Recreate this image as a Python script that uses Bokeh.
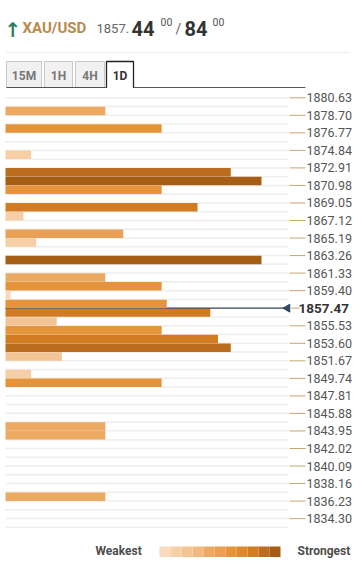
from bokeh.plotting import figure
from bokeh.layouts import column
from bokeh.models import Range1d
from bokeh.core.properties import value
from bokeh.embed import file_html
from bokeh.resources import INLINE
import numpy as np

# ---------------- data ----------------
symbol = "XAU/USD"
bid_int = "1857."
bid_big = "44"
bid_sup = "00"
ask_big = "84"
ask_sup = "00"
timeframes = ["15M", "1H", "4H", "1D"]
active_tf = "1D"

tick_labels = ["1880.63", "1878.70", "1876.77", "1874.84", "1872.91", "1870.98",
               "1869.05", "1867.12", "1865.19", "1863.26", "1861.33", "1859.40",
               "1857.47", "1855.53", "1853.60", "1851.67", "1849.74", "1847.81",
               "1845.88", "1843.95", "1842.02", "1840.09", "1838.16", "1836.23",
               "1834.30"]
tick_prices = [float(t) for t in tick_labels]
current_price = 1857.47
row_step = 0.965

levels = [1879.18, 1877.25, 1874.36, 1872.43, 1871.47, 1870.50, 1868.57, 1867.60,
          1865.67, 1864.70, 1862.77, 1860.84, 1859.87, 1858.91, 1857.94, 1856.98,
          1856.01, 1855.05, 1854.08, 1853.12, 1852.15, 1850.22, 1849.26, 1844.44,
          1843.48, 1836.72]
strengths = [3.9, 6.1, 1.0, 8.8, 10.0, 6.1, 7.5, 0.7,
             4.6, 1.2, 10.0, 3.9, 6.1, 0.2, 6.3, 8.0,
             2.0, 6.1, 8.3, 8.8, 2.2, 1.0, 6.1, 3.9,
             3.9, 3.9]

palette = ["#f8dbbf", "#f6cfa6", "#f3c595", "#efb97f", "#eba962", "#e9a055",
           "#e6943b", "#dd8a2e", "#d17b22", "#bb6c1d", "#a65d14"]
legend_low = "Weakest"
legend_high = "Strongest"

# ---------------- layout constants ----------------
W = 362
FONT = value("Roboto")
PX_PER_UNIT = 25.6
ROW_PX = 8.765
BAR_X0 = 5
BAR_X1 = 288


def base_fig(h, xr, yr):
    f = figure(width=W, height=h, x_range=xr, y_range=yr,
               toolbar_location=None, output_backend="svg", min_border=0,
               x_axis_location=None, y_axis_location=None,
               outline_line_color=None, background_fill_color="white",
               border_fill_color="white")
    f.grid.visible = False
    return f


# ---------------- header ----------------
HH = 88
hdr = base_fig(HH, Range1d(0, W), Range1d(HH, 0))
hdr.text(x=[4], y=[29], text=["\u2191"], text_font=value("DejaVu Sans"),
         text_font_size="20px", text_font_style="bold", text_color="#2e7d63",
         text_baseline="alphabetic")
hdr.text(x=[22], y=[27.5], text=[symbol], text_font=FONT, text_font_size="15px",
         text_font_style="bold", text_color="#b98a4e", text_baseline="alphabetic")
hdr.text(x=[96], y=[28], text=[bid_int], text_font=FONT, text_font_size="13px",
         text_color="#666666", text_baseline="alphabetic")
hdr.text(x=[131, 184], y=[28, 28], text=[bid_big, ask_big], text_font=FONT,
         text_font_size="20px", text_font_style="bold", text_color="#333333",
         text_baseline="alphabetic")
hdr.text(x=[160, 212], y=[21, 21], text=[bid_sup, ask_sup], text_font=FONT,
         text_font_size="10.5px", text_color="#555555", text_baseline="alphabetic")
hdr.text(x=[175], y=[28], text=["/"], text_font=FONT, text_font_size="14px",
         text_color="#666666", text_baseline="alphabetic")
hdr.segment(x0=[5], y0=[52], x1=[350], y1=[52], line_color="#ececec", line_width=1)

tab_left = [6, 44, 75, 106]
tab_right = [41, 72, 104, 133]
tab_top, tab_bot = 61, 87.3
inactive = [i for i, t in enumerate(timeframes) if t != active_tf]
act = timeframes.index(active_tf)
hdr.quad(left=[tab_left[i] for i in inactive], right=[tab_right[i] for i in inactive],
         top=tab_top, bottom=tab_bot, fill_color="#f1f1f1", line_color="#c9c9c9")
hdr.text(x=[(tab_left[i] + tab_right[i]) / 2 for i in inactive], y=75,
         text=[timeframes[i] for i in inactive], text_font=FONT, text_font_size="12px",
         text_font_style="bold", text_color="#777777", text_align="center",
         text_baseline="middle")
hdr.quad(left=[tab_left[act]], right=[tab_right[act]], top=tab_top, bottom=tab_bot,
         fill_color="white", line_color=None)
hdr.multi_line(xs=[[tab_left[act], tab_left[act], tab_right[act], tab_right[act]]],
               ys=[[tab_bot, tab_top, tab_top, tab_bot]], line_color="#222222",
               line_width=1.3)
hdr.text(x=[(tab_left[act] + tab_right[act]) / 2], y=75, text=[active_tf],
         text_font=FONT, text_font_size="12px", text_font_style="bold",
         text_color="#333333", text_align="center", text_baseline="middle")
hdr.segment(x0=[6, tab_right[act]], y0=[tab_bot, tab_bot], x1=[tab_left[act], 305],
            y1=[tab_bot, tab_bot], line_color="#222222", line_width=1.3)

# ---------------- chart ----------------
H = 440
top_price = tick_prices[0] + row_step * (9.3 / ROW_PX)
bottom_price = top_price - row_step * (H / ROW_PX)
ch = base_fig(H, Range1d(-BAR_X0 / PX_PER_UNIT, (W - BAR_X0) / PX_PER_UNIT),
              Range1d(bottom_price, top_price))
ch.extra_x_ranges = {"px": Range1d(0, W)}

bounds = [tick_prices[0] - k * row_step for k in range(0, 50)]
ch.segment(x0=BAR_X0, y0=bounds, x1=BAR_X1, y1=bounds, x_range_name="px",
           line_color="#eeeeee", line_width=1.5)

colors = [palette[int(min(10, max(0, round(s))))] for s in strengths]
lo = [i for i, l in enumerate(levels) if l < current_price]
hi = [i for i, l in enumerate(levels) if l > current_price]
ch.hbar(y=[levels[i] for i in lo], left=0, right=[strengths[i] for i in lo],
        height=row_step * 0.97, fill_color=[colors[i] for i in lo], line_color=None)
ch.segment(x0=[BAR_X0], y0=[current_price], x1=[285], y1=[current_price],
           x_range_name="px", line_color="#34495e", line_width=1.3)
ch.hbar(y=[levels[i] for i in hi], left=0, right=[strengths[i] for i in hi],
        height=row_step * 0.97, fill_color=[colors[i] for i in hi], line_color=None)
ch.scatter(x=[287], y=[current_price], x_range_name="px", marker="triangle",
           angle=np.pi / 2, size=8, fill_color="#34495e", line_color="#34495e")

reg_p = [p for p in tick_prices if p != current_price]
reg_t = [t for t, p in zip(tick_labels, tick_prices) if p != current_price]
cur_t = [t for t, p in zip(tick_labels, tick_prices) if p == current_price]
ch.segment(x0=289, y0=reg_p, x1=305, y1=reg_p, x_range_name="px",
           line_color="#c9a46e", line_width=1)
ch.segment(x0=[291], y0=[current_price], x1=[299], y1=[current_price], x_range_name="px",
           line_color="#c9a46e", line_width=1)
ch.text(x=306, y=reg_p, text=reg_t, x_range_name="px", text_font=FONT,
        text_font_size="12.5px", text_color="#555555", text_baseline="alphabetic")
ch.text(x=[298], y=[current_price], text=cur_t, x_range_name="px", text_font=FONT,
        text_font_size="13.5px", text_font_style="bold", text_color="#333333",
        text_baseline="alphabetic")

# ---------------- legend ----------------
LH = 38
leg = base_fig(LH, Range1d(0, W), Range1d(LH, 0))
leg.text(x=[95], y=[22], text=[legend_low], text_font=FONT, text_font_size="12px",
         text_font_style="bold", text_color="#4d4d4d", text_baseline="middle")
seg_w = 11
lefts = [159 + i * seg_w for i in range(len(palette))]
leg.quad(left=lefts, right=[l + seg_w for l in lefts], top=18, bottom=28.5,
         fill_color=palette, line_color=None)
leg.text(x=[297], y=[22], text=[legend_high], text_font=FONT, text_font_size="12px",
         text_font_style="bold", text_color="#4d4d4d", text_baseline="middle")

layout = column(hdr, ch, leg, spacing=0)
open("out.html", "w").write(file_html(layout, INLINE))
